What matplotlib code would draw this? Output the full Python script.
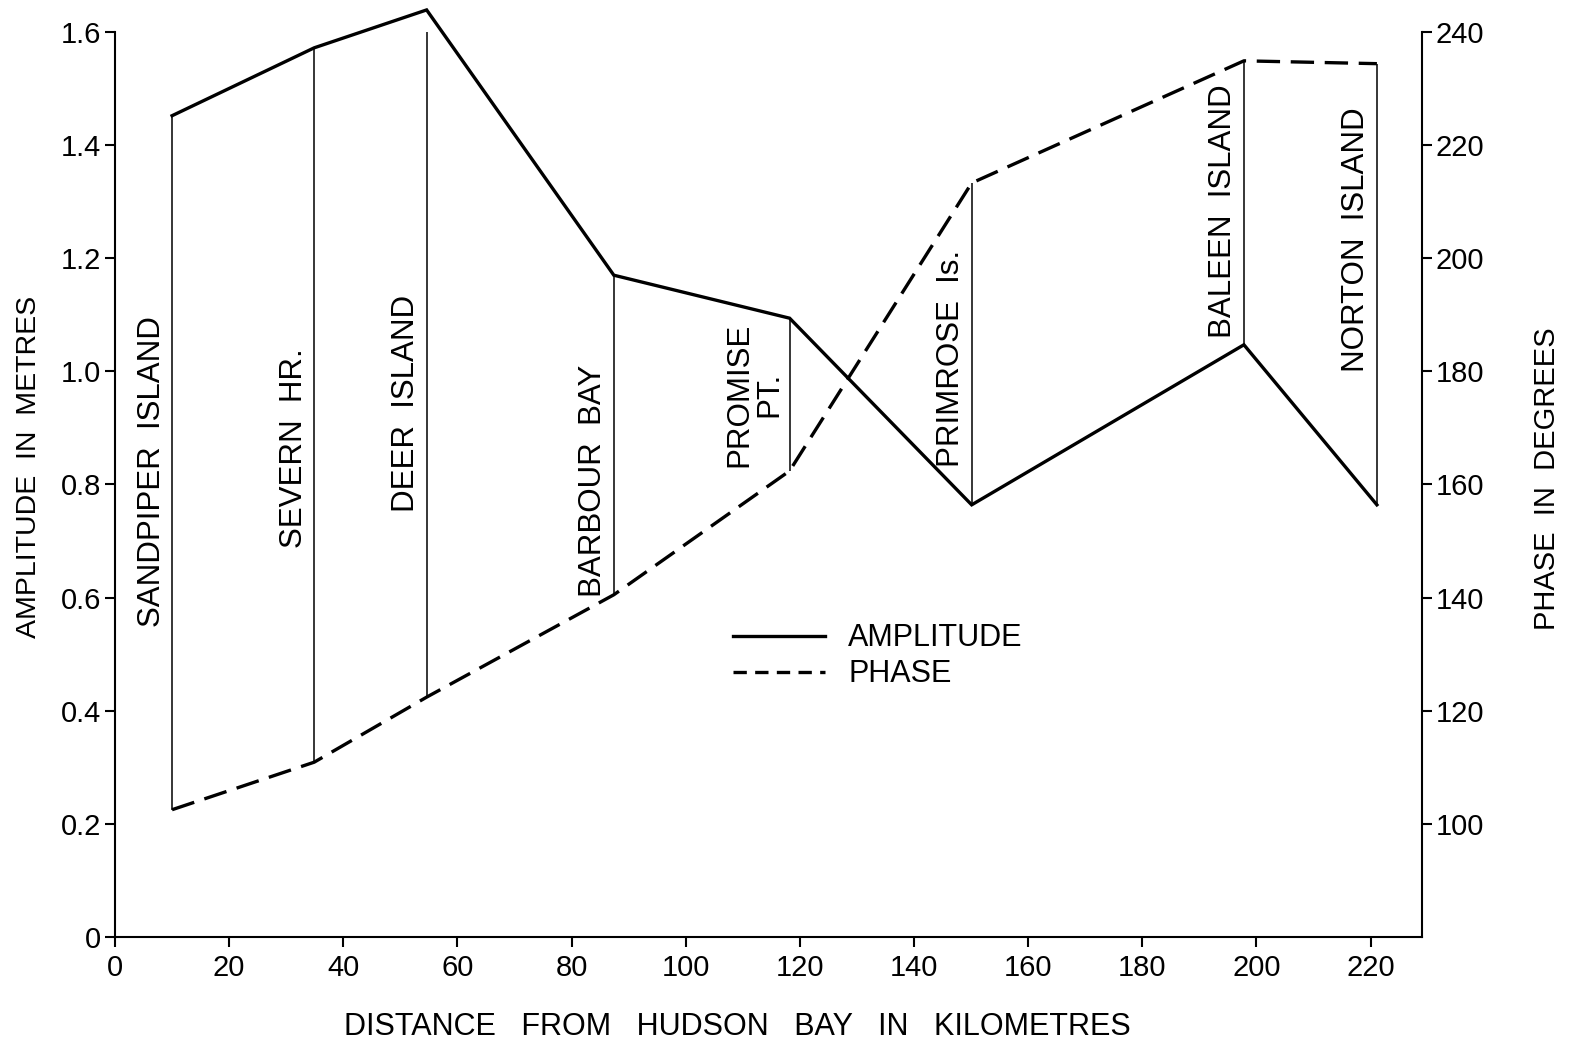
import numpy as np
import matplotlib
matplotlib.use("Agg")
import matplotlib.pyplot as plt
from matplotlib.lines import Line2D

plt.rcParams['font.family'] = ['Liberation Sans', 'DejaVu Sans']

# station data
stations = ['SANDPIPER  ISLAND', 'SEVERN  HR.', 'DEER  ISLAND', 'BARBOUR  BAY',
            'PROMISE\nPT.', 'PRIMROSE  Is.', 'BALEEN  ISLAND', 'NORTON  ISLAND']
distance_km = [10.0, 34.9, 54.6, 87.4, 118.2, 150.1, 197.8, 221.1]
amplitude_m = [1.452, 1.572, 1.639, 1.170, 1.094, 0.764, 1.047, 0.764]
phase_deg = [102.5, 110.9, 122.4, 140.5, 162.4, 213.3, 234.9, 234.4]
# where the bottom of each station label sits (amplitude units)
label_bottom = [0.548, 0.688, 0.751, 0.601, 0.831, 0.831, 1.059, 0.999]

x_ticks = list(range(0, 221, 20))
amp_ticks = [0, 0.2, 0.4, 0.6, 0.8, 1.0, 1.2, 1.4, 1.6]
amp_ticklabels = ['0', '0.2', '0.4', '0.6', '0.8', '1.0', '1.2', '1.4', '1.6']
phase_ticks = [100, 120, 140, 160, 180, 200, 220, 240]

fig = plt.figure(figsize=(15.69, 10.42), dpi=100)
ax = fig.add_axes([0.0733, 0.1008, 0.8330, 0.8685])
ax2 = ax.twinx()

ax.set_xlim(0, 229)
ax.set_ylim(0, 1.6)
ax2.set_ylim(80, 240)

lw_main = 2.4
ax.plot(distance_km, amplitude_m, color='black', lw=lw_main, clip_on=False,
        solid_joinstyle='miter')
ax2.plot(distance_km, phase_deg, color='black', lw=lw_main, clip_on=False,
         dashes=(7, 3.2))

# vertical connectors between amplitude and phase
phase_as_amp = [(p - 80) / 100.0 for p in phase_deg]
ax.vlines(distance_km, phase_as_amp, amplitude_m, color='black', lw=1.1)

for name, xk, yb in zip(stations, distance_km, label_bottom):
    ax.annotate(name, (xk, yb), xytext=(-4, 0), textcoords='offset points',
                rotation=90, ha='right', va='bottom', fontsize=22.5,
                multialignment='center', linespacing=1.0)

for a in (ax, ax2):
    a.spines['top'].set_visible(False)
    for s in a.spines.values():
        s.set_linewidth(1.5)
ax.spines['right'].set_visible(False)
ax2.spines['left'].set_visible(False)
ax2.spines['bottom'].set_visible(False)

ax.set_xticks(x_ticks)
ax.set_yticks(amp_ticks)
ax.set_yticklabels(amp_ticklabels)
ax2.set_yticks(phase_ticks)
ax.tick_params(axis='both', direction='out', length=7, width=1.5,
               labelsize=21, pad=3)
ax2.tick_params(axis='y', direction='out', length=7, width=1.5,
                labelsize=21, pad=3)
ax.tick_params(axis='x', pad=5)

ax.set_xlabel('DISTANCE   FROM   HUDSON   BAY   IN   KILOMETRES', fontsize=22)
ax.xaxis.set_label_coords(0.476, -0.083)
ax.set_ylabel('AMPLITUDE  IN  METRES', fontsize=20.5)
ax.yaxis.set_label_coords(-0.056, 0.519)
ax2.set_ylabel('PHASE  IN  DEGREES', fontsize=21, rotation=90)
ax2.yaxis.set_label_coords(1.085, 0.506)

handles = [Line2D([], [], color='black', lw=lw_main),
           Line2D([], [], color='black', lw=lw_main, dashes=(4, 2.5))]
ax.legend(handles, ['AMPLITUDE', 'PHASE'], loc='center left',
          bbox_to_anchor=(0.4615, 0.31), frameon=False, fontsize=22,
          handlelength=3.0, handletextpad=0.75, labelspacing=0.2,
          borderpad=0)

fig.savefig('out.png', dpi=100)
